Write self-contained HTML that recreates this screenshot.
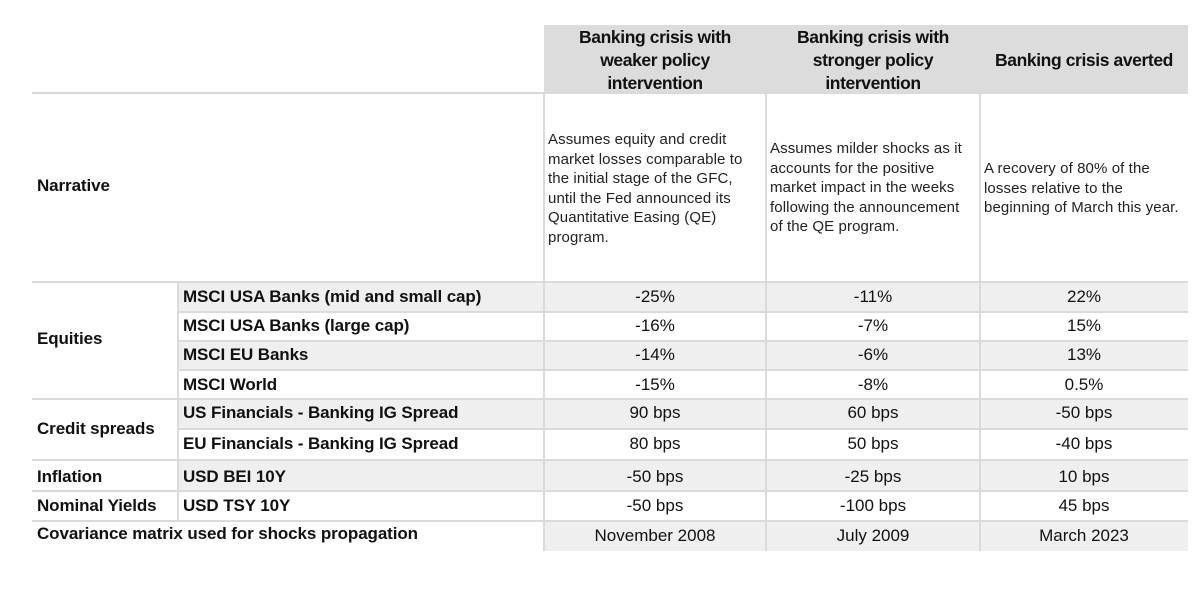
<!DOCTYPE html>
<html><head><meta charset="utf-8"><style>
body{margin:0;width:1200px;height:600px;background:#fff;position:relative;font-family:"Liberation Sans",Arial,sans-serif;color:#111;overflow:hidden}
.a{position:absolute;box-sizing:border-box}
.sh{background:#efefef}
.hl{position:absolute;height:2px;background:#dadada}
.vl{position:absolute;width:2px;background:#dadada}
.b{font-weight:bold;font-size:17px;letter-spacing:-0.1px}
.v{font-size:17px;text-align:center}
.t{display:flex;align-items:center}
.n{font-size:15px;line-height:19.5px;letter-spacing:0.1px;color:#222;white-space:nowrap}
.h{font-size:17.5px;font-weight:bold;letter-spacing:-0.4px}
</style></head><body>
<div class="a" style="left:544px;top:25px;width:644px;height:68px;background:#dcdcdc"></div>
<div class="a h t" style="left:544px;top:26px;width:222px;height:68px;justify-content:center;text-align:center;line-height:23px">Banking crisis with<br>weaker policy<br>intervention</div>
<div class="a h t" style="left:766px;top:26px;width:214px;height:68px;justify-content:center;text-align:center;line-height:23px">Banking crisis with<br>stronger policy<br>intervention</div>
<div class="a h t" style="left:980px;top:26px;width:208px;height:68px;justify-content:center;text-align:center">Banking crisis averted</div>
<div class="a sh" style="left:178px;top:283px;width:1010px;height:29px"></div>
<div class="a sh" style="left:178px;top:342px;width:1010px;height:28px"></div>
<div class="a sh" style="left:178px;top:400px;width:1010px;height:28px"></div>
<div class="a sh" style="left:178px;top:461px;width:1010px;height:30px"></div>
<div class="a sh" style="left:544px;top:521px;width:644px;height:30px"></div>
<div class="hl" style="left:32px;top:92px;width:1156px"></div>
<div class="hl" style="left:32px;top:281px;width:1156px"></div>
<div class="hl" style="left:178px;top:311px;width:1010px"></div>
<div class="hl" style="left:178px;top:340px;width:1010px"></div>
<div class="hl" style="left:178px;top:369px;width:1010px"></div>
<div class="hl" style="left:32px;top:398px;width:1156px"></div>
<div class="hl" style="left:178px;top:428px;width:1010px"></div>
<div class="hl" style="left:32px;top:459px;width:1156px"></div>
<div class="hl" style="left:32px;top:490px;width:1156px"></div>
<div class="hl" style="left:32px;top:520px;width:1156px"></div>
<div class="vl" style="left:177px;top:282px;height:238px"></div>
<div class="vl" style="left:543px;top:93px;height:458px"></div>
<div class="vl" style="left:765px;top:93px;height:458px"></div>
<div class="vl" style="left:979px;top:93px;height:458px"></div>
<div class="a b" style="left:37px;top:176px">Narrative</div>
<div class="a b" style="left:37px;top:329px">Equities</div>
<div class="a b" style="left:37px;top:419px">Credit spreads</div>
<div class="a b" style="left:37px;top:467px">Inflation</div>
<div class="a b" style="left:37px;top:496px">Nominal Yields</div>
<div class="a b" style="left:37px;top:524px">Covariance matrix used for shocks propagation</div>
<div class="a b" style="left:183px;top:287px">MSCI USA Banks (mid and small cap)</div>
<div class="a b" style="left:183px;top:316px">MSCI USA Banks (large cap)</div>
<div class="a b" style="left:183px;top:345px">MSCI EU Banks</div>
<div class="a b" style="left:183px;top:375px">MSCI World</div>
<div class="a b" style="left:183px;top:403px">US Financials - Banking IG Spread</div>
<div class="a b" style="left:183px;top:434px">EU Financials - Banking IG Spread</div>
<div class="a b" style="left:183px;top:467px">USD BEI 10Y</div>
<div class="a b" style="left:183px;top:496px">USD TSY 10Y</div>
<div class="a n" style="left:548px;top:130px">Assumes equity and credit<br>market losses comparable to<br>the initial stage of the GFC,<br>until the Fed announced its<br>Quantitative Easing (QE)<br>program.</div>
<div class="a n" style="left:770px;top:139px">Assumes milder shocks as it<br>accounts for the positive<br>market impact in the weeks<br>following the announcement<br>of the QE program.</div>
<div class="a n" style="left:984px;top:159px">A recovery of 80% of the<br>losses relative to the<br>beginning of March this year.</div>
<div class="a v" style="left:544px;top:287px;width:222px">-25%</div><div class="a v" style="left:766px;top:287px;width:214px">-11%</div><div class="a v" style="left:980px;top:287px;width:208px">22%</div>
<div class="a v" style="left:544px;top:316px;width:222px">-16%</div><div class="a v" style="left:766px;top:316px;width:214px">-7%</div><div class="a v" style="left:980px;top:316px;width:208px">15%</div>
<div class="a v" style="left:544px;top:345px;width:222px">-14%</div><div class="a v" style="left:766px;top:345px;width:214px">-6%</div><div class="a v" style="left:980px;top:345px;width:208px">13%</div>
<div class="a v" style="left:544px;top:375px;width:222px">-15%</div><div class="a v" style="left:766px;top:375px;width:214px">-8%</div><div class="a v" style="left:980px;top:375px;width:208px">0.5%</div>
<div class="a v" style="left:544px;top:403px;width:222px">90 bps</div><div class="a v" style="left:766px;top:403px;width:214px">60 bps</div><div class="a v" style="left:980px;top:403px;width:208px">-50 bps</div>
<div class="a v" style="left:544px;top:434px;width:222px">80 bps</div><div class="a v" style="left:766px;top:434px;width:214px">50 bps</div><div class="a v" style="left:980px;top:434px;width:208px">-40 bps</div>
<div class="a v" style="left:544px;top:467px;width:222px">-50 bps</div><div class="a v" style="left:766px;top:467px;width:214px">-25 bps</div><div class="a v" style="left:980px;top:467px;width:208px">10 bps</div>
<div class="a v" style="left:544px;top:496px;width:222px">-50 bps</div><div class="a v" style="left:766px;top:496px;width:214px">-100 bps</div><div class="a v" style="left:980px;top:496px;width:208px">45 bps</div>
<div class="a v" style="left:544px;top:526px;width:222px">November 2008</div><div class="a v" style="left:766px;top:526px;width:214px">July 2009</div><div class="a v" style="left:980px;top:526px;width:208px">March 2023</div>
</body></html>
